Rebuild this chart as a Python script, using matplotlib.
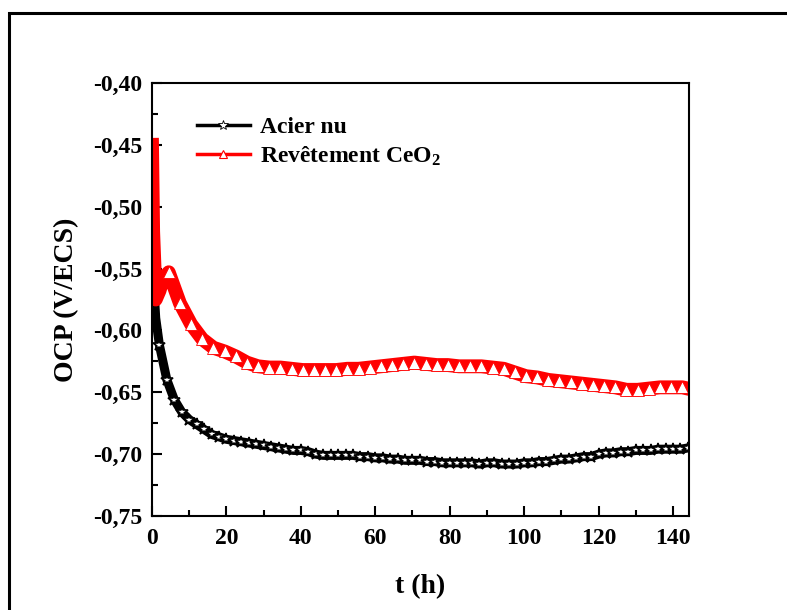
import numpy as np
import matplotlib
matplotlib.use("Agg")
import matplotlib.pyplot as plt
from matplotlib.lines import Line2D
from matplotlib.patches import Rectangle
from matplotlib.ticker import MultipleLocator, FuncFormatter

plt.rcParams["font.family"] = ["Liberation Serif", "DejaVu Serif"]
plt.rcParams["font.weight"] = "bold"
plt.rcParams["mathtext.fontset"] = "custom"
plt.rcParams["mathtext.rm"] = "Liberation Serif:bold"
plt.rcParams["mathtext.it"] = "Liberation Serif:bold"
plt.rcParams["mathtext.bf"] = "Liberation Serif:bold"

# Acier nu (bare steel)
t_acier = [0, 0.5, 1] + list(range(2, 145, 2))
ocp_acier = [-0.520, -0.565, -0.590,
             -0.612, -0.640, -0.656, -0.666, -0.672, -0.676, -0.680, -0.684,
             -0.686, -0.688, -0.689, -0.690, -0.691, -0.692, -0.693, -0.694,
             -0.695, -0.696, -0.697, -0.697, -0.698, -0.700, -0.701, -0.701,
             -0.701, -0.701, -0.701, -0.702, -0.702, -0.703, -0.703, -0.704,
             -0.704, -0.705, -0.705, -0.705, -0.706, -0.706, -0.707, -0.707,
             -0.707, -0.707, -0.707, -0.708, -0.707, -0.707, -0.708, -0.708,
             -0.708, -0.707, -0.707, -0.706, -0.706, -0.705, -0.704, -0.704,
             -0.703, -0.702, -0.702, -0.700, -0.699, -0.699, -0.698, -0.698,
             -0.697, -0.697, -0.697, -0.696, -0.696, -0.696, -0.696, -0.695]

# Revetement CeO2
t_rev = [0, 0.3, 1, 2, 3] + [4.5 + 3 * i for i in range(47)] + [144]
ocp_rev = [-0.450, -0.520, -0.575, -0.568, -0.558,
           -0.553, -0.578, -0.595, -0.607, -0.614, -0.617, -0.621, -0.626,
           -0.629, -0.630, -0.630, -0.631, -0.632, -0.632, -0.632, -0.632,
           -0.631, -0.631, -0.630, -0.629, -0.628, -0.627, -0.626, -0.627,
           -0.628, -0.628, -0.629, -0.629, -0.629, -0.630, -0.631, -0.634,
           -0.637, -0.638, -0.640, -0.641, -0.642, -0.643, -0.644, -0.645,
           -0.646, -0.648, -0.648, -0.647, -0.646, -0.646, -0.646,
           -0.647]

x_ticks = [0, 20, 40, 60, 80, 100, 120, 140]
y_ticks = [-0.75, -0.70, -0.65, -0.60, -0.55, -0.50, -0.45, -0.40]

fig = plt.figure(figsize=(7.87, 6.10), dpi=100)
ax = fig.add_axes([152 / 787, 1 - 516 / 610, 537 / 787, 433 / 610])

ax.plot(t_acier, ocp_acier, color="black", lw=6.5, marker="*", ms=9,
        mfc="white", mec="black", mew=1.2, markevery=range(3, len(t_acier)))
ax.plot(t_rev, ocp_rev, color="#ff0000", lw=10, marker="^", ms=8,
        mfc="white", mec="#ff0000", mew=0.6, markevery=range(5, len(t_rev) - 1))

ax.set_xlim(0, 144.3)
ax.set_ylim(-0.75, -0.40)
ax.set_xticks(x_ticks)
ax.set_yticks(y_ticks)
ax.xaxis.set_minor_locator(MultipleLocator(10))
ax.yaxis.set_minor_locator(MultipleLocator(0.025))
ax.yaxis.set_major_formatter(FuncFormatter(lambda v, p: f"{v:.2f}".replace(".", ",")))
ax.tick_params(which="both", direction="in", width=1.5, top=False, right=False,
               labelsize=17)
ax.tick_params(which="major", length=7, pad=7)
ax.tick_params(axis="x", which="major", pad=9)
ax.tick_params(which="minor", length=4)
for s in ax.spines.values():
    s.set_linewidth(1.5)

ax.set_xlabel("t (h)", fontsize=20, fontweight="bold", labelpad=18)
ax.set_ylabel("OCP (V/ECS)", fontsize=20, fontweight="bold", labelpad=10)

handles = [
    Line2D([], [], color="black", lw=2.5, marker="*", ms=7, mfc="white", mec="black", mew=0.6),
    Line2D([], [], color="#ff0000", lw=2.5, marker="^", ms=6, mfc="white", mec="#ff0000", mew=0.8),
]
labels = ["Acier nu", r"Revêtement CeO$_\mathregular{2}$"]
ax.legend(handles, labels, loc="upper left", bbox_to_anchor=(0.083, 0.922),
          frameon=False, fontsize=17, handlelength=2.25, handletextpad=0.45,
          labelspacing=0.25, borderaxespad=0, borderpad=0)

fig.patches.append(Rectangle((9 / 787, -0.1), 1.2, 1.1 - 13 / 610, fill=False,
                             lw=2.2, ec="black", transform=fig.transFigure))

fig.savefig("out.png", dpi=100)
